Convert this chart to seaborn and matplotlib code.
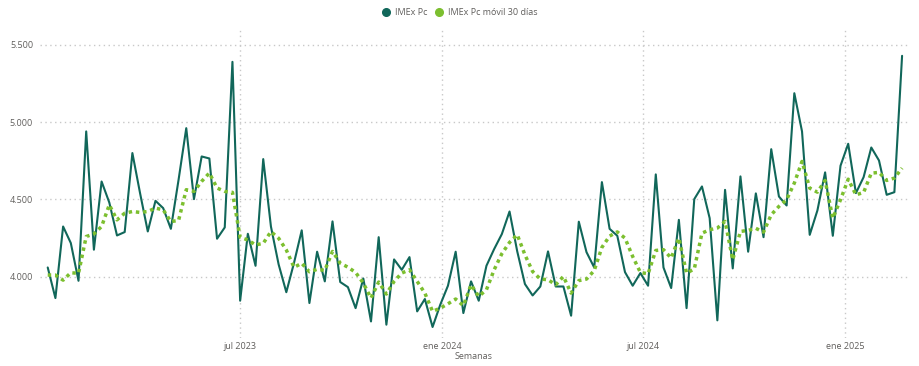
import numpy as np
import pandas as pd
import matplotlib.pyplot as plt
import matplotlib.dates as mdates
from matplotlib.ticker import FuncFormatter
from matplotlib.lines import Line2D
import seaborn as sns

# weekly data, Jan 2023 - Feb 2025
semanas = pd.date_range('2023-01-07', periods=112, freq='7D')

imex_pc = [
    4060, 3862, 4325, 4218, 3974, 4940, 4175, 4616, 4480, 4267, 4289, 4800, 4540, 4293, 4491, 4444,
    4310, 4627, 4961, 4502, 4778, 4765, 4246, 4319, 5390, 3845, 4278, 4071, 4761, 4325, 4080, 3900,
    4090, 4300, 3830, 4162,
    3970, 4358, 3966, 3933, 3797, 3989, 3711, 4256, 3690, 4112, 4045, 4127, 3776,
    3856, 3675, 3819, 3942, 4162, 3765, 3970, 3845, 4071, 4179, 4276, 4422, 4164, 3953, 3879, 3937,
    4164, 3937, 3937, 3748, 4356, 4159, 4060, 4612, 4310, 4265, 4030, 3942, 4024, 3942, 4662, 4060,
    3927, 4368, 3797, 4502, 4584, 4379, 3718, 4562, 4054, 4649, 4162, 4539, 4256, 4825, 4519, 4461, 5187,
    4940, 4271, 4429, 4675, 4265, 4718, 4860, 4541, 4644, 4836, 4752, 4530, 4547, 5429,
]

imex_movil = [
    4011, 4011, 3978, 4026, 4022, 4260, 4277, 4325, 4465, 4368, 4411, 4422, 4416, 4422, 4444, 4433,
    4357, 4364, 4563, 4552, 4617, 4671, 4574, 4552, 4546, 4255, 4238, 4206, 4216, 4292, 4249, 4173,
    4061, 4087, 4032, 4048,
    4041, 4164, 4088, 4062, 4028, 3959, 3862, 3966, 3888, 3970, 4024, 4045, 3970, 3894, 3776, 3797,
    3825, 3856, 3813, 3948, 3873, 3916, 4045, 4149, 4222, 4272, 4142, 4034, 3985, 3981, 3948, 4002,
    3894, 3975, 3985, 4040, 4190, 4263, 4290,
    4250, 4131, 4028, 4019, 4170, 4175, 4121, 4250, 4024, 4050, 4282, 4304, 4315, 4358, 4110, 4293,
    4300, 4313, 4289, 4401, 4455, 4498, 4606, 4746, 4573, 4547, 4623, 4379, 4498, 4631, 4530, 4545,
    4670, 4675, 4623, 4638, 4703,
]

df = pd.DataFrame({'Semanas': semanas, 'IMEx Pc': imex_pc, 'movil': imex_movil})

c_dark = '#11675A'
c_light = '#7CBF2F'
c_text = '#605E5C'

sns.set_style('white')
plt.rcParams['font.family'] = ['Open Sans', 'DejaVu Sans']

fig = plt.figure(figsize=(9.2, 3.66), dpi=100)
ax = fig.add_axes([0.0435, 0.077, 0.943, 0.844])

sns.lineplot(data=df, x='Semanas', y='IMEx Pc', ax=ax, color=c_dark, linewidth=1.5)
sns.lineplot(data=df, x='Semanas', y='movil', ax=ax, color=c_light, linewidth=2.5,
             linestyle=(0, (1, 1.1)))

ax.set_ylim(3605, 5603)
ax.set_xlim(pd.Timestamp('2022-12-31'), pd.Timestamp('2025-02-27'))
ax.set_yticks([4000, 4500, 5000, 5500])
ax.yaxis.set_major_formatter(FuncFormatter(lambda v, p: f'{v:,.0f}'.replace(',', '.')))
ax.set_xticks(pd.to_datetime(['2023-07-01', '2024-01-01', '2024-07-01', '2025-01-01']))
ax.set_xticklabels(['jul 2023', 'ene 2024', 'jul 2024', 'ene 2025'])

ax.grid(True, color='#C8C8C8', linestyle=(0, (1, 2.5)), linewidth=1)
for s in ax.spines.values():
    s.set_visible(False)
ax.tick_params(length=0, labelsize=6.5, colors=c_text)
ax.tick_params(axis='y', pad=5)
ax.tick_params(axis='x', pad=3)
ax.set_ylabel('')
ax.set_xlabel('Semanas', fontsize=6.5, color=c_text, labelpad=1)

handles = [Line2D([], [], marker='o', linestyle='', color=c_dark, markersize=5.5),
           Line2D([], [], marker='o', linestyle='', color=c_light, markersize=5.5)]
fig.legend(handles, ['IMEx Pc', 'IMEx Pc móvil 30 días'], loc='center', bbox_to_anchor=(0.497, 0.965),
           ncol=2, frameon=False, fontsize=6.5, handletextpad=0.0, columnspacing=0.3,
           labelcolor=c_text)

fig.savefig('out.png', dpi=100)
